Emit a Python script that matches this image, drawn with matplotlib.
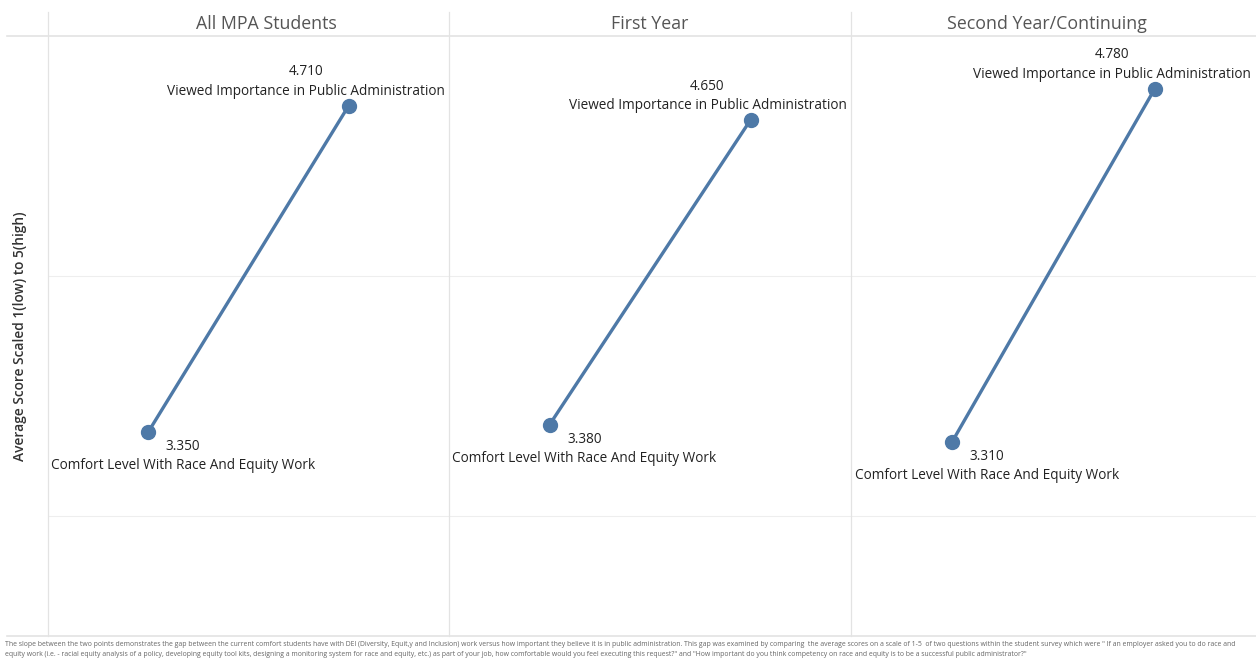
import matplotlib
matplotlib.use("Agg")
import matplotlib.pyplot as plt
from matplotlib.lines import Line2D

plt.rcParams['font.family'] = ['Open Sans', 'DejaVu Sans']

# data
panels = ["All MPA Students", "First Year", "Second Year/Continuing"]
measures = ["Comfort Level With Race And Equity Work",
            "Viewed Importance in Public Administration"]
comfort = [3.350, 3.380, 3.310]
importance = [4.710, 4.650, 4.780]

ylabel = "Average Score Scaled 1(low) to 5(high)"
footnote = ("The slope between the two points demonstrates the gap between the current comfort students have with DEI (Diversity, Equit,y and Inclusion) "
            "work versus how important they believe it is in public administration. This gap was examined by comparing  the average scores on a scale of 1-5  "
            "of two questions within the student survey which were \" If an employer asked you to do race and\n"
            "equity work (i.e. - racial equity analysis of a policy, developing equity tool kits, designing a monitoring system for race and equity, etc.) "
            "as part of your job, how comfortable would you feel executing this request?\" and \"How important do you think competency on race and equity "
            "is to be a successful public administrator?\"")

W, H = 1256, 661
fig = plt.figure(figsize=(W / 100, H / 100), dpi=100)

blue = "#4e79a7"
grid = "#eeeeee"
border = "#e3e3e3"

edges = [48, 449, 851, 1256]
title_x = [266, 650, 1047]
top, bottom = 36, 636

for i, name in enumerate(panels):
    x0, x1 = edges[i], edges[i + 1]
    ax = fig.add_axes([x0 / W, (H - bottom) / H, (x1 - x0) / W, (bottom - top) / H])
    ax.set_xlim(-0.5, 1.5)
    ax.set_ylim(2.5, 5.0)
    for s in ax.spines.values():
        s.set_visible(False)
    ax.set_xticks([])
    ax.set_yticks([])
    for g in [3, 4]:
        ax.axhline(g, color=grid, lw=0.8, zorder=0)
    vals = [comfort[i], importance[i]]
    ax.plot([0, 1], vals, color=blue, lw=2.4, marker="o", ms=10,
            solid_capstyle="round", zorder=3)
    ax.annotate("%.3f\n%s" % (comfort[i], measures[0]), (0, comfort[i]),
                xytext=(35, -7), textcoords="offset pixels", ha="center",
                va="top", fontsize=9.8, color="#222222", linespacing=1.4)
    ax.annotate("%.3f\n%s" % (importance[i], measures[1]), (1, importance[i]),
                xytext=(-43, 7), textcoords="offset pixels", ha="center",
                va="bottom", fontsize=9.8, color="#222222", linespacing=1.4)
    fig.text(title_x[i] / W, 1 - 24 / H, name, ha="center", va="center",
             fontsize=12.8, color="#555555")

# frame lines
for x in edges[:3]:
    fig.add_artist(Line2D([x / W, x / W], [1 - 12 / H, 1 - bottom / H],
                          color=border, lw=0.9))
fig.add_artist(Line2D([7 / W, 1], [1 - top / H, 1 - top / H], color=border, lw=1.2))
fig.add_artist(Line2D([7 / W, 1], [1 - bottom / H, 1 - bottom / H], color=border, lw=1.2))

fig.text(20 / W, 1 - 336 / H, ylabel, rotation=90, ha="center", va="center",
         fontsize=9.9, color="#333333", fontweight="semibold")

fig.text(5 / W, 1 - 641 / H, footnote, ha="left", va="top", fontsize=4.95,
         color="#666666", linespacing=1.5)

fig.savefig("out.png", dpi=100, facecolor="white")
